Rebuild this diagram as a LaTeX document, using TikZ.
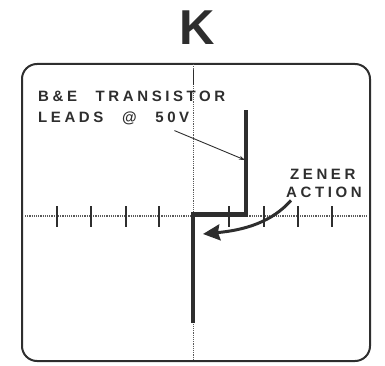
\documentclass[tikz,border=0pt]{standalone}
\usepackage{fontspec}
\setmainfont{Liberation Sans}
\newfontfamily\scopefont[LetterSpace=24,WordSpace=2.4]{Liberation Sans}
\usepackage{xcolor}
\usetikzlibrary{arrows.meta,calc,positioning}
\definecolor{Ink}{HTML}{2E2E2E}
\definecolor{Grid}{HTML}{5A5A5A}

\begin{document}
\begin{tikzpicture}[x=1pt,y=-1pt,
  screen/.style={draw=Ink,line width=2pt,rounded corners=15pt},
  axis/.style={draw=Grid,line width=1.2pt,densely dotted},
  tick/.style={draw=Ink,line width=1.4pt},
  trace/.style={draw=Ink,line width=4.5pt,line join=miter},
  lbl/.style={font=\scopefont\bfseries\fontsize{15}{16}\selectfont,text=Ink,inner sep=0pt,anchor=base west},
  leader/.style={-{Stealth[length=6pt,width=4pt]},draw=Ink,line width=0.9pt},
  zener/.style={-{Stealth[length=17pt,width=16pt,inset=2pt]},draw=Ink,line width=3pt}
]
\useasboundingbox (0,0) rectangle (385,366);
\node[font=\bfseries\fontsize{49}{49}\selectfont,text=Ink] (title) at (197,28) {K};
\draw[screen] (22,64) rectangle (370,361);
% graticule
\draw[axis] (25,216) -- (367,216);
\draw[axis] (193.5,64) -- (193.5,360);
\draw[tick] (193.5,70) -- (193.5,85);
\foreach \x in {57,91,126,159,229,264,298,332}
  \draw[tick] (\x,206) -- (\x,227);
% trace
\coordinate (low) at (193,323);
\coordinate (knee) at (193,214.5);
\coordinate (step) at (246,214.5);
\coordinate (high) at (246,110);
\draw[trace] (low) -- (knee) -- (step) -- (high);
\coordinate (leadpt) at (245,160);
\coordinate (zenpt) at (203,234);
% labels
\node[lbl] (lblBE) at (38,102) {B\&E TRANSISTOR};
\node[lbl] (lblLeads) at (38,123) {LEADS @ 50V};
\node[lbl] (lblZener) at (290,179) {ZENER};
\node[lbl] (lblAction) at (286,197) {ACTION};
\draw[leader] ([xshift=-15pt,yshift=-5pt]lblLeads.south east) -- (leadpt);
\draw[zener] ([xshift=5pt,yshift=-3pt]lblAction.south west) .. controls (272,222) and (245,230) .. (zenpt);
\end{tikzpicture}
\end{document}
